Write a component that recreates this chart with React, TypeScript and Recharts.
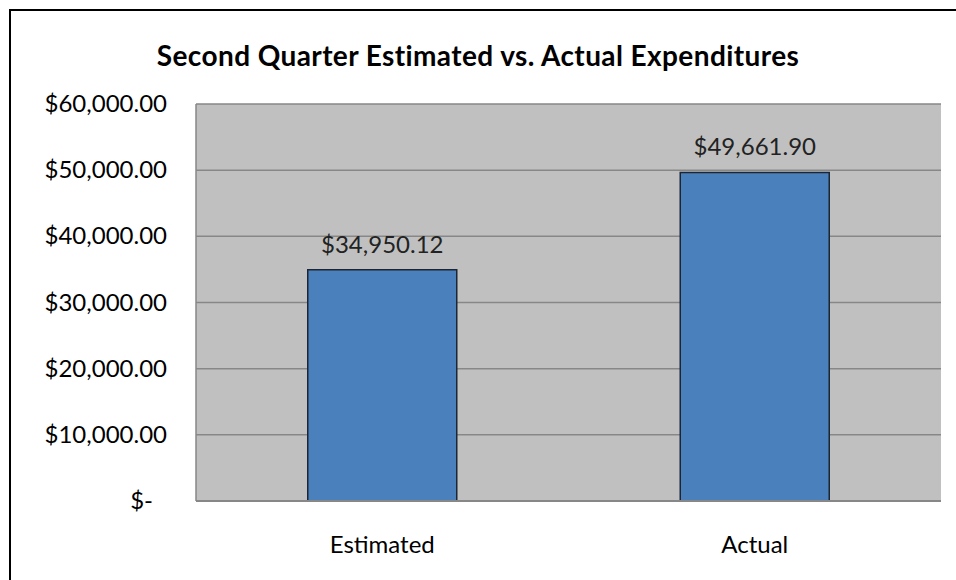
import React from "react";
import { BarChart, Bar, XAxis, YAxis, CartesianGrid, LabelList } from "recharts";

const categories = ["Estimated", "Actual"];
const expenditures = [34950.12, 49661.9];
const yTicks = [0, 10000, 20000, 30000, 40000, 50000, 60000];

const data = categories.map((name, i) => ({ name, amount: expenditures[i] }));

const FONT = "Lato, 'Open Sans', sans-serif";

function money(v: number) {
  return "$" + v.toLocaleString("en-US", { minimumFractionDigits: 2, maximumFractionDigits: 2 });
}

function YTick(props: any) {
  const { x, y, payload } = props;
  const v = payload.value as number;
  return (
    <text
      x={v === 0 ? x - 14 : x}
      y={y}
      dy={8}
      textAnchor="end"
      fontSize={24}
      fontFamily={FONT}
      fill="#000"
    >
      {v === 0 ? "$-" : money(v)}
    </text>
  );
}

export default function App() {
  return (
    <div
      style={{
        position: "absolute",
        left: 0,
        top: 0,
        width: 956,
        height: 580,
        background: "#fff",
        fontFamily: FONT,
      }}
    >
      <div
        style={{
          position: "absolute",
          left: 9,
          top: 9,
          right: 0,
          bottom: 0,
          borderLeft: "2px solid #000",
          borderTop: "2px solid #000",
        }}
      />
      <div
        style={{
          position: "absolute",
          left: 0,
          width: 956,
          top: 38,
          textAlign: "center",
          fontSize: 28,
          letterSpacing: 0.4,
          fontWeight: 700,
          color: "#000",
          lineHeight: "34px",
        }}
      >
        Second Quarter Estimated vs. Actual Expenditures
      </div>
      <div style={{ position: "absolute", left: 0, top: 0 }}>
        <BarChart
          width={956}
          height={580}
          data={data}
          margin={{ top: 104, right: 15, left: 0, bottom: 0 }}
          barCategoryGap="30%"
        >
          <CartesianGrid vertical={false} fill="#C0C0C0" stroke="#878787" strokeWidth={1.5} />
          <XAxis
            dataKey="name"
            height={79}
            axisLine={{ stroke: "#878787", strokeWidth: 2 }}
            tickLine={false}
            tick={{ fontSize: 24, fontFamily: FONT, fill: "#000" }}
            tickMargin={29}
          />
          <YAxis
            width={196}
            domain={[0, 60000]}
            ticks={yTicks}
            interval={0}
            axisLine={{ stroke: "#878787", strokeWidth: 1.5 }}
            tickLine={false}
            tick={<YTick />}
            tickMargin={23}
          />
          <YAxis
            yAxisId="right"
            orientation="right"
            width={0}
            domain={[0, 60000]}
            tick={false}
            tickLine={false}
            axisLine={{ stroke: "#d9d9d9", strokeWidth: 1.5 }}
          />
          <Bar
            dataKey="amount"
            fill="#4A81BD"
            stroke="#1b2533"
            strokeWidth={1.5}
            isAnimationActive={false}
          >
            <LabelList
              dataKey="amount"
              position="top"
              offset={17}
              formatter={(v: any) => money(Number(v))}
              style={{ fontSize: 24, fontFamily: FONT, fill: "#222" }}
            />
          </Bar>
        </BarChart>
      </div>
    </div>
  );
}
